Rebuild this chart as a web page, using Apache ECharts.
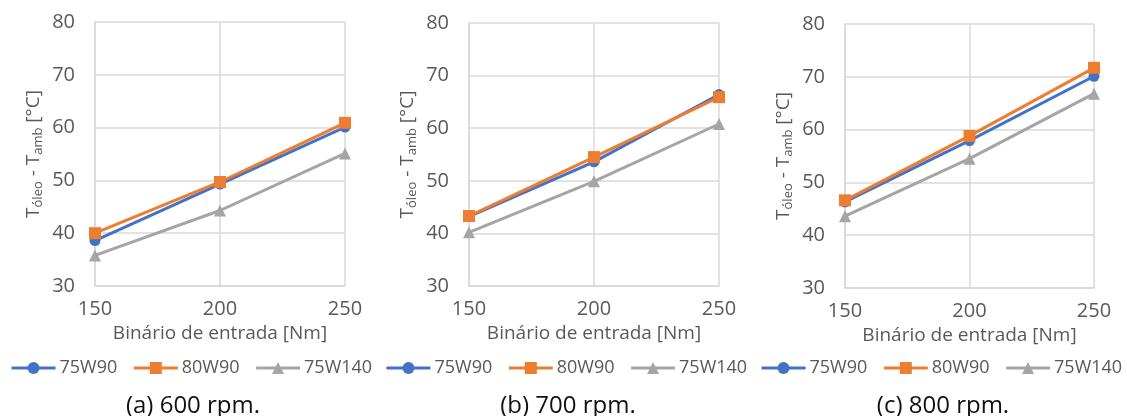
<!DOCTYPE html>
<html>
<head>
<meta charset="utf-8">
<script src="https://cdn.jsdelivr.net/npm/echarts@6/dist/echarts.min.js"></script>
<style>
  html, body { margin: 0; padding: 0; background: #ffffff; }
  #chart { width: 1127px; height: 416px; }
</style>
</head>
<body>
<div id="chart"></div>
<script>
// Input torque [Nm] on the x axis
const torque = [150, 200, 250];
const oils = ['75W90', '80W90', '75W140'];
const captions = ['(a) 600 rpm.', '(b) 700 rpm.', '(c) 800 rpm.'];
const yTicks = [30, 40, 50, 60, 70, 80];

// Oil temperature rise over ambient [°C] per oil, at each speed
const rise600_75W90  = [38.6, 49.3, 60.1];
const rise600_80W90  = [40.0, 49.7, 60.9];
const rise600_75W140 = [35.8, 44.3, 55.1];

const rise700_75W90  = [43.2, 53.6, 66.4];
const rise700_80W90  = [43.3, 54.5, 65.9];
const rise700_75W140 = [40.2, 49.9, 60.8];

const rise800_75W90  = [46.3, 57.9, 70.1];
const rise800_80W90  = [46.6, 58.8, 71.7];
const rise800_75W140 = [43.6, 54.5, 66.8];

const panels = [
  [rise600_75W90, rise600_80W90, rise600_75W140],
  [rise700_75W90, rise700_80W90, rise700_75W140],
  [rise800_75W90, rise800_80W90, rise800_75W140]
];

const FONT = '"Open Sans", "Noto Sans", sans-serif';
const TEXT = '#595959';
const GRID_LINE = '#d9d9d9';
const colors = ['#4472C4', '#ED7D31', '#A5A5A5'];
const symbols = ['circle', 'rect', 'triangle'];

const gridBoxes = [
  { left: 95,  top: 22, width: 250, height: 264 },
  { left: 469, top: 23, width: 250, height: 263 },
  { left: 845, top: 24, width: 249, height: 264 }
];
const panelOffsets = [0, 375, 750];

const grid = [], xAxis = [], yAxis = [], series = [], legend = [], graphic = [];

gridBoxes.forEach((g, p) => {
  grid.push(Object.assign({ containLabel: false }, g));

  xAxis.push({
    type: 'value', gridIndex: p,
    min: torque[0], max: torque[torque.length - 1], interval: 50,
    name: 'Binário de entrada [Nm]',
    nameLocation: 'middle', nameGap: 36,
    nameTextStyle: { fontFamily: FONT, fontSize: 19, color: TEXT, verticalAlign: 'top' },
    axisLine: { show: true, lineStyle: { color: GRID_LINE, width: 1.5 } },
    axisTick: { show: false },
    splitLine: { show: true, lineStyle: { color: GRID_LINE, width: 1.5 } },
    axisLabel: { fontFamily: FONT, fontSize: 20, color: TEXT, margin: 13 }
  });

  yAxis.push({
    type: 'value', gridIndex: p,
    min: yTicks[0], max: yTicks[yTicks.length - 1], interval: 10,
    name: '{m|T}{s|óleo}{m| - T}{s|amb}{m| [°C]}',
    nameLocation: 'middle', nameGap: 50, nameRotate: 90,
    nameTextStyle: {
      fontFamily: FONT, color: TEXT,
      rich: {
        m: { fontFamily: FONT, fontSize: 19, color: TEXT },
        s: { fontFamily: FONT, fontSize: 13, color: TEXT, padding: [10, 0, 0, 0] }
      }
    },
    axisLine: { show: true, lineStyle: { color: GRID_LINE, width: 1.5 } },
    axisTick: { show: false },
    splitLine: { show: true, lineStyle: { color: GRID_LINE, width: 1.5 } },
    axisLabel: { fontFamily: FONT, fontSize: 20, color: TEXT, margin: 20 }
  });

  panels[p].forEach((vals, k) => {
    series.push({
      name: oils[k], type: 'line',
      xAxisIndex: p, yAxisIndex: p,
      data: torque.map((t, i) => [t, vals[i]]),
      symbol: symbols[k], symbolSize: k === 0 ? 11 : 12,
      color: colors[k],
      lineStyle: { width: 3, color: colors[k] },
      itemStyle: { color: colors[k] },
      animation: false
    });
  });

  legend.push({
    left: 10 + panelOffsets[p], top: 359,
    padding: 0,
    orient: 'horizontal',
    data: oils,
    itemWidth: 44, itemHeight: 15, itemGap: 15,
    lineStyle: { width: 3 },
    textStyle: { fontFamily: FONT, fontSize: 18, color: TEXT, padding: [0, 0, 0, -1] },
    selectedMode: false
  });

  graphic.push({
    type: 'text',
    x: panelOffsets[p] + 193, y: 406,
    style: {
      text: captions[p],
      fontFamily: FONT, fontSize: 24, fill: '#111111',
      textAlign: 'center', textVerticalAlign: 'middle'
    }
  });
});

const chart = echarts.init(document.getElementById('chart'), null, { renderer: 'canvas' });
chart.setOption({
  animation: false,
  backgroundColor: '#ffffff',
  grid, xAxis, yAxis, series, legend, graphic
});
</script>
</body>
</html>
